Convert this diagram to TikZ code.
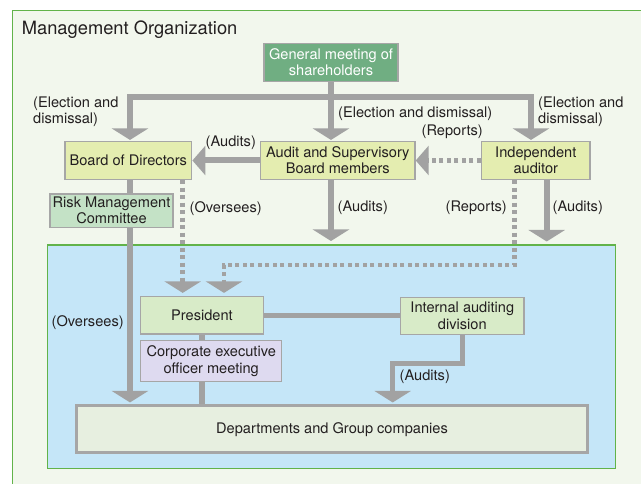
\documentclass[tikz,border=0pt]{standalone}
\usepackage{fontspec}
\setmainfont{TeX Gyre Heros}
\usetikzlibrary{arrows.meta}
\pgfdeclarelayer{back}
\pgfdeclarelayer{mid}
\pgfsetlayers{back,mid,main}
\definecolor{bgc}{HTML}{F2F7ED}
\definecolor{framec}{HTML}{62B34A}
\definecolor{bluec}{HTML}{C5E6F8}
\definecolor{arrgray}{HTML}{A2A2A2}
\definecolor{boxgray}{HTML}{A6A6A6}
\definecolor{gmc}{HTML}{70AE82}
\definecolor{yelc}{HTML}{E4EDB0}
\definecolor{rmcc}{HTML}{C4E2C6}
\definecolor{presc}{HTML}{D8EBC8}
\definecolor{ceoc}{HTML}{DEDAF0}
\definecolor{depc}{HTML}{E7EFE0}
\definecolor{txt}{HTML}{231F20}
\begin{document}
\begin{tikzpicture}[x=1pt,y=-1pt,
  font=\fontsize{14.6}{16.2}\selectfont,
  box/.style={draw=boxgray, line width=1.5pt, inner sep=0pt, align=center, text=txt},
  lbl/.style={inner sep=0pt, text=txt, align=left},
  conn/.style={draw=arrgray, line width=6pt},
  connb/.style={draw=arrgray, line width=5.5pt},
  dots/.style={draw=arrgray, line width=4.5pt, dash pattern=on 4pt off 3.5pt},
  vhead/.style={-{Triangle[width=36pt,length=11.5pt]}},
  hhead/.style={-{Triangle[width=29pt,length=13pt]}},
  vvhead/.style={{Triangle[width=36pt,length=11.5pt]}-{Triangle[width=36pt,length=11.5pt]}}
]
\useasboundingbox (0,0) rectangle (641,484);
\clip (0,0) rectangle (641,484);
\begin{pgfonlayer}{back}
  \fill[white] (0,0) rectangle (641,484);
  \draw[framec, fill=bgc, line width=1.5pt] (12.5,10.5) rectangle (700,540);
  \draw[framec, fill=bluec, line width=1.5pt] (47.3,245) rectangle (615.7,468.3);
\end{pgfonlayer}

\node[anchor=base west, inner sep=0pt, text=txt, font=\fontsize{18.3}{22}\selectfont] (title) at (21.7,35) {Management Organization};

\node[box, fill=gmc, text=white, minimum width=134pt, minimum height=38.4pt] (gm) at (331,62.5) {General meeting of\\shareholders};
\node[box, fill=yelc, minimum width=126.7pt, minimum height=37.6pt] (bod) at (128.3,160.5) {Board of Directors};
\node[box, fill=yelc, minimum width=154.3pt, minimum height=37.6pt] (asb) at (337.8,160.5) {Audit and Supervisory\\Board members};
\node[box, fill=yelc, minimum width=108.3pt, minimum height=37.6pt] (ia) at (535.8,160.5) {Independent\\auditor};
\node[box, fill=rmcc, minimum width=123pt, minimum height=33.3pt] (rmc) at (111.5,210.7) {Risk Management\\Committee};
\node[box, fill=presc, minimum width=122.6pt, minimum height=37.3pt] (pres) at (202,315.3) {President};
\node[box, fill=ceoc, minimum width=141pt, minimum height=41pt] (ceo) at (211.2,361.2) {Corporate executive\\officer meeting};
\node[box, fill=presc, minimum width=123.3pt, minimum height=37pt] (iad) at (462.3,315.8) {Internal auditing\\division};
\node[box, fill=depc, line width=2.5pt, minimum width=510.6pt, minimum height=47pt] (dep) at (332,429.2) {Departments and Group companies};

% labels
\node[lbl, anchor=west] (l1) at (33,112) {(Election and\\dismissal)};
\node[lbl, anchor=west] (l2) at (338,114) {(Election and dismissal)};
\node[lbl, anchor=west] (l3) at (538,112) {(Election and\\dismissal)};
\node[lbl, anchor=east] (l4) at (483,132) {(Reports)};
\node[lbl, anchor=west] (l5) at (205.5,142.5) {(Audits)};
\node[lbl, anchor=west] (l6) at (189.5,209) {(Oversees)};
\node[lbl, anchor=west] (l7) at (337.5,208) {(Audits)};
\node[lbl, anchor=east] (l8) at (507,208) {(Reports)};
\node[lbl, anchor=west] (l9) at (552.5,208) {(Audits)};
\node[lbl, anchor=west] (l10) at (51.5,322.7) {(Oversees)};
\node[lbl, anchor=west] (l11) at (399.5,376.7) {(Audits)};

\coordinate (bar) at (331,97);
\coordinate (a1) at (331,241);
\coordinate (a2) at (546.7,241.5);
\coordinate (r1) at (514.3,265);
\coordinate (r2) at (224,265);
\coordinate (o1) at (182.7,0);
\coordinate (o2) at (130,0);
\coordinate (i1) at (462.7,363.3);
\coordinate (i2) at (392.7,363.3);

\begin{pgfonlayer}{mid}
  \draw[conn] (gm.south) -- (bar);
  \draw[conn, vvhead] ([xshift=1.7pt,yshift=1pt]bod.north) |- (bar) -| ([xshift=-4.8pt,yshift=1pt]ia.north);
  \draw[conn, vhead] (bar) -- ([yshift=1pt]bar |- asb.north);
  \draw[conn, hhead] (asb.west) -- (bod.east);
  \draw[dots, hhead] (ia.west) -- (asb.east);
  \draw[conn, vhead] (asb.south -| a1) -- (a1);
  \draw[conn, vhead] (ia.south -| a2) -- (a2);
  \draw[dots, vhead] (ia.south -| r1) -- (r1) -- (r2) -- ([yshift=3pt]r2 |- pres.north);
  \draw[dots, vhead] (bod.south -| o1) -- ([yshift=3pt]pres.north -| o1);
  \draw[conn, vhead] (bod.south -| o2) -- ([yshift=2pt]dep.north -| o2);
  \draw[connb] (pres.east) -- (pres.east -| iad.west);
  \draw[connb] (pres.south) -- (pres.south |- ceo.north);
  \draw[connb] (pres.south |- ceo.south) -- (pres.south |- dep.north);
  \draw[connb, vhead] (iad.south -| i1) -- (i1) -- (i2) -- ([yshift=2pt]i2 |- dep.north);
\end{pgfonlayer}
\end{tikzpicture}
\end{document}
